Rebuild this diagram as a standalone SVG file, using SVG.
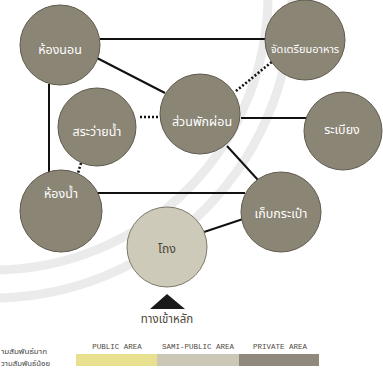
<svg xmlns="http://www.w3.org/2000/svg" width="383" height="372" viewBox="0 0 383 372">
  <style>
    .room { fill: #8b8575; stroke: #5f5a4d; stroke-width: 1; }
    .hall { fill: #cdcab9; stroke: #7d7868; stroke-width: 1; }
    .lbl { font-family: "Noto Sans Thai", "Noto Sans", "DejaVu Sans", sans-serif; font-size: 12.5px; fill: #ffffff; text-anchor: middle; }
    .lbl-dark { fill: #4d4838; }
    .solid { stroke: #111111; stroke-width: 2; fill: none; }
    .dotted { stroke: #111111; stroke-width: 2.6; stroke-dasharray: 2 2; fill: none; }
    .zone { font-family: "Liberation Mono", "Courier New", monospace; font-size: 7.5px; fill: #4f4a42; text-anchor: middle; }
    .key { font-family: "Noto Sans Thai", "Noto Sans", sans-serif; font-size: 7px; fill: #444; }
    .seal { fill: none; stroke: #bdbdbd; stroke-opacity: 0.3; stroke-width: 9; }
  </style>

  <rect width="383" height="372" fill="#ffffff"/>

  <!-- faint seal ring in the background -->
  <g id="seal">
    <path class="seal" d="M -5 298 A 300 300 0 0 0 292 -5"/>
    <path class="seal" d="M -5 270 A 275 275 0 0 0 268 -5"/>
  </g>

  <!-- connectors -->
  <g id="connectors">
    <line class="solid" x1="100" y1="39" x2="266" y2="39"/>
    <line class="solid" x1="97" y1="58" x2="165" y2="93"/>
    <line class="solid" x1="49" y1="84" x2="49" y2="174"/>
    <line class="dotted" x1="140" y1="117" x2="161" y2="117"/>
    <line class="dotted" x1="81" y1="163" x2="76" y2="180"/>
    <line class="dotted" x1="236" y1="91" x2="273" y2="61"/>
    <line class="solid" x1="241" y1="118" x2="311" y2="118"/>
    <line class="solid" x1="227" y1="146" x2="258" y2="180"/>
    <line class="solid" x1="97" y1="193" x2="245" y2="193"/>
    <line class="solid" x1="204" y1="232" x2="243" y2="219"/>
  </g>

  <g id="bedroom">
    <circle class="room" cx="60" cy="45" r="40"/>
    <text class="lbl" x="60" y="54">ห้องนอน</text>
  </g>
  <g id="kitchen">
    <circle class="room" cx="305" cy="40" r="40"/>
    <text class="lbl" x="305" y="53" style="font-size:11px">จัดเตรียมอาหาร</text>
  </g>
  <g id="pool">
    <circle class="room" cx="97" cy="127" r="39"/>
    <text class="lbl" x="97" y="136">สระว่ายน้ำ</text>
  </g>
  <g id="lounge">
    <circle class="room" cx="200" cy="114" r="40"/>
    <text class="lbl" x="202" y="126">ส่วนพักผ่อน</text>
  </g>
  <g id="terrace">
    <circle class="room" cx="343" cy="131" r="39"/>
    <text class="lbl" x="342" y="134">ระเบียง</text>
  </g>
  <g id="bathroom">
    <circle class="room" cx="61" cy="211" r="41"/>
    <text class="lbl" x="61" y="198">ห้องน้ำ</text>
  </g>
  <g id="luggage">
    <circle class="room" cx="281" cy="212" r="40"/>
    <text class="lbl" x="281" y="218">เก็บกระเป๋า</text>
  </g>
  <g id="hall">
    <circle class="hall" cx="167" cy="247" r="40"/>
    <text class="lbl lbl-dark" x="167" y="253">โถง</text>
  </g>

  <g id="entrance">
    <polygon points="167,294 150,309 185,309" fill="#1a1a1a"/>
    <text class="lbl lbl-dark" x="167" y="323" style="font-size:11.5px">ทางเข้าหลัก</text>
  </g>

  <g id="legend">
    <text class="key" x="1" y="354" textLength="46" lengthAdjust="spacingAndGlyphs">ามสัมพันธ์มาก</text>
    <text class="key" x="1" y="366" textLength="49" lengthAdjust="spacingAndGlyphs">วามสัมพันธ์น้อย</text>
    <text class="zone" x="117" y="349">PUBLIC AREA</text>
    <text class="zone" x="198" y="349">SAMI-PUBLIC AREA</text>
    <text class="zone" x="280" y="349">PRIVATE AREA</text>
    <rect x="76" y="354" width="81" height="12" fill="#e8e08f"/>
    <rect x="157" y="354" width="82" height="12" fill="#cbc8b8"/>
    <rect x="239" y="354" width="80" height="12" fill="#8f8a7b"/>
  </g>
</svg>
